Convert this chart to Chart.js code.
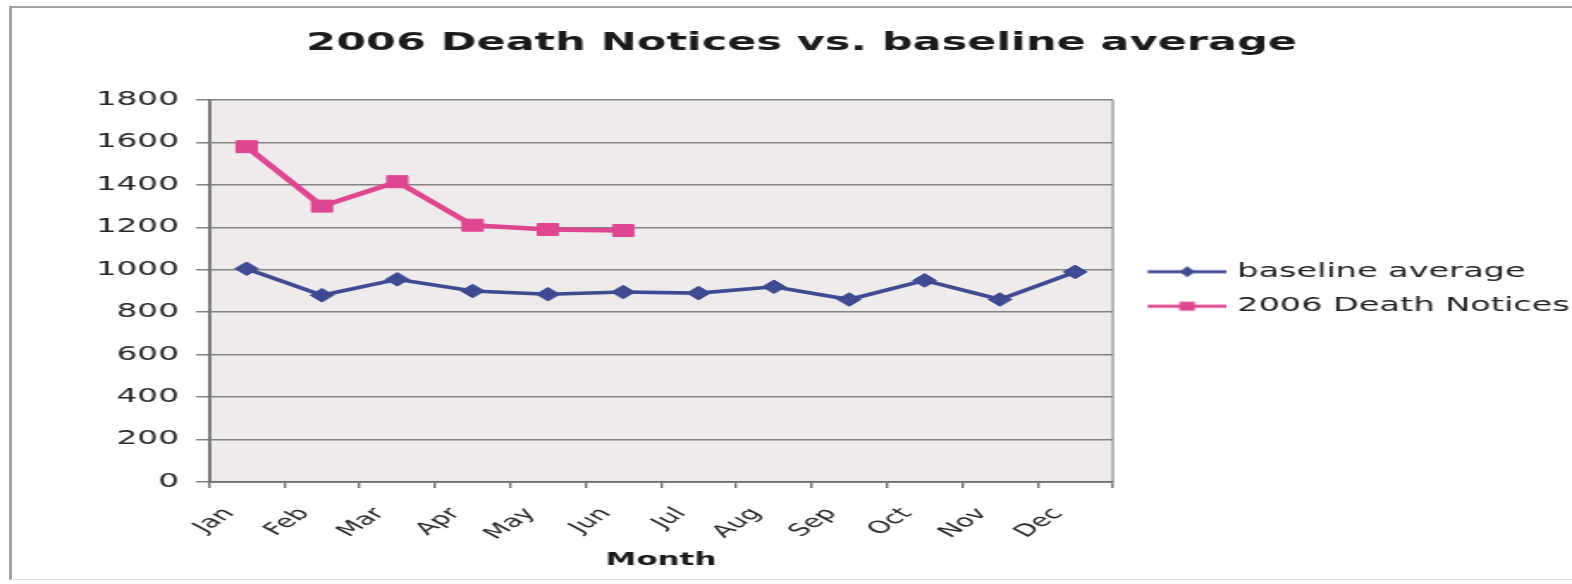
<!DOCTYPE html>
<html>
<head>
<meta charset="utf-8">
<title>2006 Death Notices vs. baseline average</title>
<script src="https://cdn.jsdelivr.net/npm/chart.js@4.4.1/dist/chart.umd.min.js"></script>
<style>
  html, body { margin: 0; padding: 0; background: #ffffff; overflow: hidden; }
  body { width: 1572px; height: 584px; position: relative; }
  #frame {
    position: absolute; left: 9px; top: 6px; width: 1600px; height: 571px;
    border-left: 3px solid #a3a3a3; border-top: 2px solid #a3a3a3; border-bottom: 1px solid #e2e2e2;
  }
  #stage {
    position: absolute; left: 0; top: 0;
    transform: scaleX(1.72); transform-origin: 0 0;
    filter: blur(0.45px);
  }
  #chart { display: block; }
</style>
</head>
<body>
<div id="frame"></div>
<div id="stage"><canvas id="chart" width="932" height="584"></canvas></div>
<script>
// Months on the category axis
const months = ['Jan', 'Feb', 'Mar', 'Apr', 'May', 'Jun', 'Jul', 'Aug', 'Sep', 'Oct', 'Nov', 'Dec'];

// Long-run monthly average of death notices
const baselineAverage = [1005, 880, 955, 900, 885, 895, 890, 920, 860, 950, 860, 990];

// Death notices counted in 2006 (first half of the year only)
const notices2006 = [1580, 1300, 1415, 1210, 1190, 1185, null, null, null, null, null, null];

// Value axis ticks
const yTicks = [0, 200, 400, 600, 800, 1000, 1200, 1400, 1600, 1800];

const BLUE = '#3f4a92';
const PINK = '#df4690';
const FONT = "'DejaVu Sans', Verdana, sans-serif";

// Legend glyph: a short line with the series marker in its middle
function legendGlyph(color, marker) {
  const c = document.createElement('canvas');
  c.width = 55; c.height = 20;
  const g = c.getContext('2d');
  g.strokeStyle = color; g.fillStyle = color; g.lineWidth = 2.8;
  g.beginPath(); g.moveTo(9, 10); g.lineTo(55, 10); g.stroke();
  g.beginPath();
  if (marker === 'rectRot') {
    g.moveTo(32, 4.5); g.lineTo(36.5, 10); g.lineTo(32, 15.5); g.lineTo(27.5, 10); g.closePath();
  } else {
    g.rect(27.5, 5.5, 9, 9);
  }
  g.fill();
  return c;
}

// Plot-area fill and right-hand frame line
const plotBackground = {
  id: 'plotBackground',
  beforeDraw(chart) {
    const { ctx, chartArea: a } = chart;
    ctx.save();
    ctx.fillStyle = '#efeaec';
    ctx.fillRect(a.left, a.top, a.right - a.left, a.bottom - a.top);
    ctx.strokeStyle = '#9c9c9c';
    ctx.lineWidth = 1.4;
    ctx.beginPath();
    ctx.moveTo(a.right, a.top);
    ctx.lineTo(a.right, a.bottom);
    ctx.stroke();
    ctx.restore();
  }
};

new Chart(document.getElementById('chart'), {
  type: 'line',
  data: {
    labels: months,
    datasets: [
      {
        label: 'baseline average',
        data: baselineAverage,
        borderColor: BLUE,
        backgroundColor: BLUE,
        borderWidth: 3.6,
        pointStyle: 'rectRot',
        pointRadius: 6.8,
        pointBorderWidth: 1,
        tension: 0
      },
      {
        label: '2006 Death Notices',
        data: notices2006,
        borderColor: PINK,
        backgroundColor: PINK,
        borderWidth: 4.4,
        pointStyle: 'rect',
        pointRadius: 8.5,
        pointBorderWidth: 1,
        tension: 0,
        spanGaps: false
      }
    ]
  },
  options: {
    responsive: false,
    animation: false,
    devicePixelRatio: 1,
    layout: { padding: { left: 20, right: 20, top: 0, bottom: 6 } },
    plugins: {
      title: {
        display: true,
        text: '2006 Death Notices vs. baseline average',
        color: '#1b1b1b',
        font: { family: FONT, size: 25, weight: 'bold' },
        padding: { top: 28, bottom: 42 }
      },
      legend: {
        display: true,
        position: 'right',
        align: 'center',
        maxWidth: 265,
        labels: {
          color: '#222222',
          font: { family: FONT, size: 19.5 },
          usePointStyle: true,
          pointStyleWidth: 47.5,
          boxHeight: 19.5,
          padding: 15,
          generateLabels(chart) {
            const items = Chart.defaults.plugins.legend.labels.generateLabels(chart);
            items.forEach((item, i) => {
              const ds = chart.data.datasets[i];
              item.pointStyle = legendGlyph(ds.borderColor, ds.pointStyle);
              item.rotation = 0;
            });
            return items;
          }
        }
      },
      tooltip: { enabled: false }
    },
    scales: {
      x: {
        type: 'category',
        offset: true,
        afterFit(scale) { scale.height = 96; },
        grid: {
          offset: true,
          drawOnChartArea: false,
          drawTicks: true,
          tickLength: 6,
          color: '#707070',
          lineWidth: 1.4
        },
        border: { display: true, color: '#6e6e6e', width: 1.8 },
        ticks: {
          autoSkip: false,
          maxRotation: 48,
          minRotation: 48,
          padding: 16,
          labelOffset: -10,
          color: '#262626',
          font: { family: FONT, size: 17 }
        },
        title: {
          display: true,
          text: 'Month',
          color: '#1b1b1b',
          font: { family: FONT, size: 18, weight: 'bold' },
          padding: { top: 6, bottom: 7 }
        }
      },
      y: {
        min: yTicks[0],
        max: yTicks[yTicks.length - 1],
        afterFit(scale) { scale.width = 101.5; },
        afterBuildTicks(scale) {
          scale.ticks = yTicks.map(v => ({ value: v }));
        },
        grid: {
          color: '#838383',
          lineWidth: 1.5,
          drawTicks: true,
          tickLength: 7.5
        },
        border: { display: true, color: '#6e6e6e', width: 1.8 },
        ticks: {
          padding: 10,
          color: '#262626',
          font: { family: FONT, size: 19 },
          callback: v => String(v)
        }
      }
    }
  },
  plugins: [plotBackground]
});
</script>
</body>
</html>
